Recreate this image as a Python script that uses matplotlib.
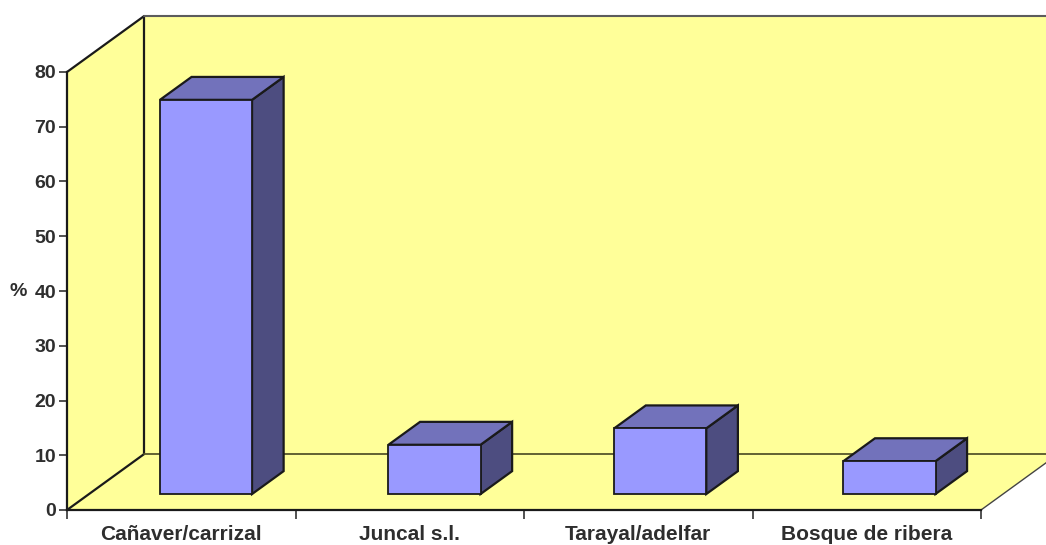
import matplotlib
matplotlib.use("Agg")
import matplotlib.pyplot as plt
from matplotlib.patches import Polygon

categories = ["Cañaver/carrizal", "Juncal s.l.", "Tarayal/adelfar", "Bosque de ribera"]
percent = [72, 9, 12, 6]
y_ticks = [0, 10, 20, 30, 40, 50, 60, 70, 80]

WALL = "#FFFF99"
FRONT = "#9999FF"
TOP = "#7272BB"
SIDE = "#4D4D80"
INK = "#1a1a1a"
TEXT = "#2e2e2e"

# Oblique projection: full chart depth expressed in axis units
DEPTH_X = 0.337
DEPTH_Y = 10.2
BAR_WIDTH = 0.403
BAR_SHIFTS = [0.012, 0.012, 0.0, 0.003]
BAR_Z0 = 0.286
BAR_Z1 = 0.696

plt.rcParams["font.family"] = ["Liberation Sans", "DejaVu Sans"]
fig = plt.figure(figsize=(10.46, 5.45), dpi=100)
ax = fig.add_axes([67 / 1046, 35 / 545, 914 / 1046, 438 / 545])
ax.set_xlim(0, len(categories))
ax.set_ylim(0, 80)
ax.patch.set_visible(False)


def project(x, y, z):
    return (x + z * DEPTH_X, y + z * DEPTH_Y)


def face(points, color, edge=INK, lw=1.6, zorder=2):
    ax.add_patch(Polygon([project(*p) for p in points], closed=True, facecolor=color,
                         edgecolor=edge, lw=lw, joinstyle="miter", clip_on=False, zorder=zorder))


n = len(categories)
top = y_ticks[-1]

# Walls and floor of the chart box
ax.add_patch(Polygon([project(0, 0, 1), project(n, 0, 1), project(n, top, 1), project(0, top, 1)],
                     closed=True, facecolor=WALL, edgecolor="none", clip_on=False, zorder=1))
face([(0, 0, 0), (n, 0, 0), (n, 0, 1), (0, 0, 1)], WALL, edge="none", zorder=1)
face([(0, 0, 0), (0, 0, 1), (0, top, 1), (0, top, 0)], WALL, edge="none", zorder=1)

for a, b, col, lw in [
    ((0, 0, 0), (0, 0, 1), INK, 1.6),
    ((0, 0, 1), (0, top, 1), INK, 1.6),
    ((0, top, 0), (0, top, 1), INK, 1.6),
    ((0, top, 1), (n, top, 1), "#5c5c5c", 1.5),
    ((0, 0, 1), (n, 0, 1), "#55552a", 1.3),
    ((n, 0, 0), (n, 0, 1), "#444444", 1.0),
]:
    pa, pb = project(*a), project(*b)
    ax.plot([pa[0], pb[0]], [pa[1], pb[1]], color=col, lw=lw, clip_on=False, zorder=1.5,
            solid_capstyle="round")

# Bars, each made of three visible faces
for i, value in enumerate(percent):
    x0 = i + 0.5 + BAR_SHIFTS[i] - BAR_WIDTH / 2
    x1 = x0 + BAR_WIDTH
    z0, z1 = BAR_Z0, BAR_Z1
    face([(x1, 0, z0), (x1, 0, z1), (x1, value, z1), (x1, value, z0)], SIDE, zorder=3)
    face([(x0, value, z0), (x1, value, z0), (x1, value, z1), (x0, value, z1)], TOP, zorder=3)
    face([(x0, 0, z0), (x1, 0, z0), (x1, value, z0), (x0, value, z0)], FRONT, lw=1.3, zorder=4)

# Axes, ticks and labels
for name in ("top", "right"):
    ax.spines[name].set_visible(False)
for name in ("left", "bottom"):
    ax.spines[name].set_color(INK)
    ax.spines[name].set_linewidth(1.6)
    ax.spines[name].set_zorder(5)

ax.set_yticks(y_ticks)
ax.set_yticklabels([str(v) for v in y_ticks], fontsize=14, fontweight="bold", color=TEXT)
ax.set_xticks(range(n + 1))
ax.set_xticklabels([""] * (n + 1))
ax.tick_params(axis="y", length=5.5, width=1.2, color="#333333", pad=2.5)
ax.tick_params(axis="x", length=6.5, width=1.2, color="#333333")

for i, name in enumerate(categories):
    ax.annotate(name, (i + 0.5, 0), xytext=(0, -21.7), textcoords="offset points",
                ha="center", va="baseline", fontsize=15, fontweight="bold", color=TEXT,
                annotation_clip=False)

ax.annotate("%", (0, 40), xytext=(-41.5, 0), textcoords="offset points", ha="left", va="center",
            fontsize=14, fontweight="bold", color=TEXT, annotation_clip=False)

fig.savefig("out.png", dpi=100)
